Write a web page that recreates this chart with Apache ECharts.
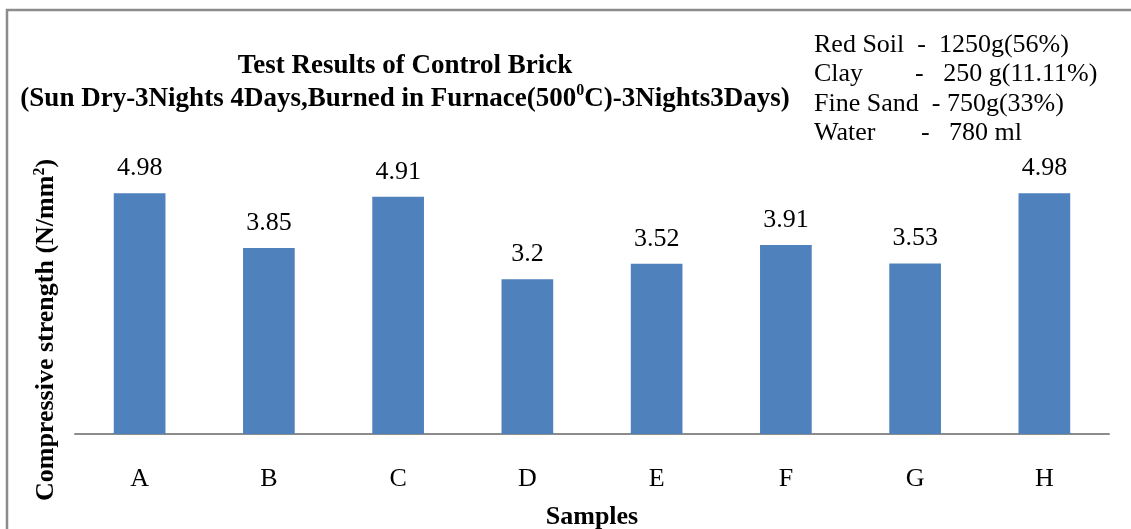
<!DOCTYPE html>
<html>
<head>
<meta charset="utf-8">
<script src="https://cdn.jsdelivr.net/npm/echarts@6/dist/echarts.min.js"></script>
<style>
  html, body { margin: 0; padding: 0; background: #fff; }
  #chart { width: 1131px; height: 529px; }
</style>
</head>
<body>
<div id="chart"></div>
<script>
var samples = ['A', 'B', 'C', 'D', 'E', 'F', 'G', 'H']
var strength = [4.98, 3.85, 4.91, 3.2, 3.52, 3.91, 3.53, 4.98]
var mixLines = [
  'Red Soil  -  1250g(56%)',
  'Clay        -   250 g(11.11%)',
  'Fine Sand  - 750g(33%)',
  'Water       -   780 ml'
]

var serif = '"Liberation Serif", "Times New Roman", serif'
var chart = echarts.init(document.getElementById('chart'))

var option = {
  backgroundColor: '#fff',
  animation: false,
  title: {
    text: '{t|Test Results of Control Brick}\n{t|(Sun Dry-3Nights 4Days,Burned in Furnace(500}{sup|0}{t|C)-3Nights3Days)}',
    left: 400,
    top: 45,
    textAlign: 'center',
    textStyle: {
      rich: {
        t: { fontFamily: serif, fontWeight: 'bold', fontSize: 27, color: '#000', lineHeight: 33 },
        sup: { fontFamily: serif, fontWeight: 'bold', fontSize: 16, color: '#000', lineHeight: 33, verticalAlign: 'top', padding: [0, 0, 12, 0] }
      }
    }
  },
  graphic: [
    {
      type: 'rect',
      shape: { x: 7, y: 10, width: 1140, height: 540 },
      style: { fill: 'none', stroke: '#8c8c8c', lineWidth: 2.5 },
      silent: true
    },
    {
      type: 'text',
      left: 814,
      top: 30,
      style: {
        text: mixLines.join('\n'),
        font: '26px ' + serif,
        fill: '#000',
        lineHeight: 29.5
      }
    },
    {
      type: 'text',
      x: 46,
      y: 330,
      rotation: Math.PI / 2,
      style: {
        text: '{b|Compressive strength (N/mm}{s|2}{b|)}',
        align: 'center',
        verticalAlign: 'middle',
        rich: {
          b: { fontFamily: serif, fontWeight: 'bold', fontSize: 26, fill: '#000' },
          s: { fontFamily: serif, fontWeight: 'bold', fontSize: 16, fill: '#000', verticalAlign: 'top', padding: [0, 0, 12, 0] }
        }
      }
    }
  ],
  grid: { left: 75, right: 22, top: 144, bottom: 95, containLabel: false, outerBoundsMode: 'none' },
  xAxis: {
    type: 'category',
    data: samples,
    name: 'Samples',
    nameLocation: 'middle',
    nameGap: 70,
    nameTextStyle: { fontFamily: serif, fontWeight: 'bold', fontSize: 26, color: '#000' },
    axisLine: { lineStyle: { color: '#8c8c8c', width: 2 } },
    axisTick: { show: false },
    axisLabel: { fontFamily: serif, fontSize: 26, color: '#000', margin: 32 }
  },
  yAxis: {
    type: 'value',
    min: 0,
    max: 6,
    show: false,
    splitLine: { show: false }
  },
  series: [{
    type: 'bar',
    data: strength,
    barWidth: '40%',
    itemStyle: { color: '#4f81bd' },
    label: {
      show: true,
      position: 'top',
      distance: 12,
      fontFamily: serif,
      fontSize: 26,
      color: '#000'
    }
  }]
}

chart.setOption(option)
</script>
</body>
</html>
